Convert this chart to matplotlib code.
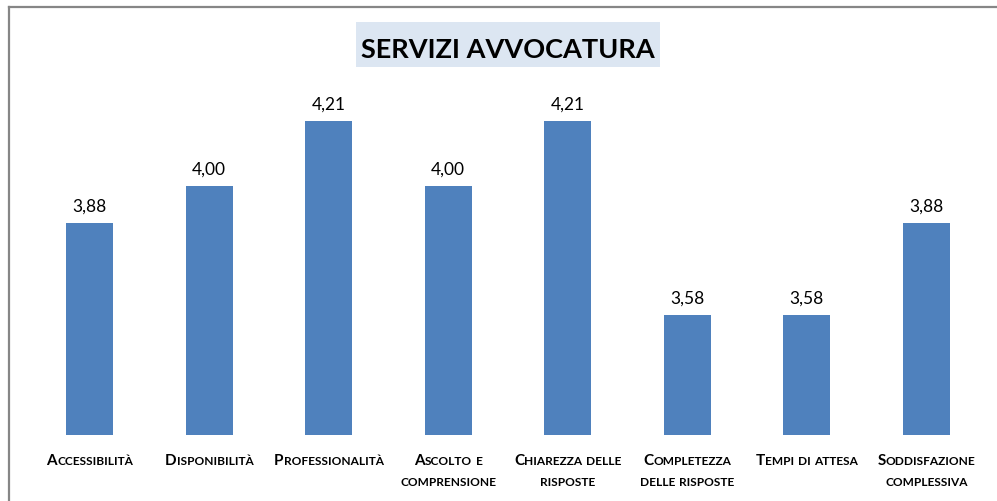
import matplotlib
matplotlib.use('Agg')
import matplotlib.pyplot as plt
from matplotlib.patches import Rectangle
from matplotlib.lines import Line2D
from itertools import groupby

# ---- data ----
categories = ["Accessibilità", "Disponibilità", "Professionalità",
              "Ascolto e\ncomprensione", "Chiarezza delle\nrisposte",
              "Completezza\ndelle risposte", "Tempi di attesa",
              "Soddisfazione\ncomplessiva"]
values = [3.88, 4.00, 4.21, 4.00, 4.21, 3.58, 3.58, 3.88]
title = "SERVIZI AVVOCATURA"

# ---- layout ----
W, H, DPI = 997, 502, 100
FONT = ['Lato', 'DejaVu Sans']
BAR_COLOR = '#4f81bd'
BIG, SMALL = 11.0, 8.6

fig = plt.figure(figsize=(W / DPI, H / DPI), dpi=DPI)
fig.patch.set_facecolor('white')

def fx(px):
    return px / W

def fy(py):
    return 1 - py / H

ax = fig.add_axes([fx(30), fy(436), fx(986) - fx(30), fy(90) - fy(436)])
xs = list(range(len(values)))
ax.bar(xs, values, width=0.39, color=BAR_COLOR)
ax.set_xlim(-0.5, len(values) - 0.5)
ax.set_ylim(3.19, 4.314)
ax.axis('off')

for i, v in zip(xs, values):
    ax.annotate(f"{v:.2f}".replace('.', ','), xy=(i, v), xytext=(0, 8.6),
                textcoords='offset points', ha='center', va='baseline',
                fontsize=12.5, family=FONT, color='black')

# ---- small-caps category labels ----
renderer = fig.canvas.get_renderer()

def width_px(s, size):
    t = fig.text(0, 0, s, fontsize=size, fontweight='bold', family=FONT)
    w = t.get_window_extent(renderer).width
    t.remove()
    return w

space_px = SMALL * DPI / 72 * 0.32
for i, label in zip(xs, categories):
    for j, line in enumerate(label.split('\n')):
        pieces = []
        for k, word in enumerate(line.split(' ')):
            if k > 0:
                pieces.append((None, None, space_px))
            for up, grp in groupby(word, key=lambda c: c.isupper()):
                s = ''.join(grp).upper()
                size = BIG if up else SMALL
                pieces.append((s, size, width_px(s, size)))
        total = sum(p[2] for p in pieces)
        xo = -total / 2
        y_pts = -(29 + 21 * j) * 72 / DPI
        for s, size, w in pieces:
            if s is not None:
                ax.annotate(s, xy=(i, 0), xycoords=('data', 'axes fraction'),
                            xytext=(xo * 72 / DPI, y_pts), textcoords='offset points',
                            ha='left', va='baseline', fontsize=size,
                            fontweight='bold', family=FONT, color='black',
                            annotation_clip=False)
            xo += w

# ---- title box ----
fig.patches.append(Rectangle((fx(356), fy(68)), fx(660) - fx(356), fy(23) - fy(68),
                             transform=fig.transFigure, facecolor='#dce6f2',
                             edgecolor='none', zorder=0))
fig.text(fx(508), fy(58), title, ha='center', va='baseline', fontsize=19.5,
         fontweight='bold', family=FONT, color='black')

# ---- outer border ----
fig.add_artist(Line2D([fx(9), fx(9)], [fy(8), 0], transform=fig.transFigure,
                      color='#868686', lw=1.6))
fig.add_artist(Line2D([fx(9), 1], [fy(8), fy(8)], transform=fig.transFigure,
                      color='#868686', lw=1.6))

fig.savefig('out.png', dpi=DPI, facecolor='white')
